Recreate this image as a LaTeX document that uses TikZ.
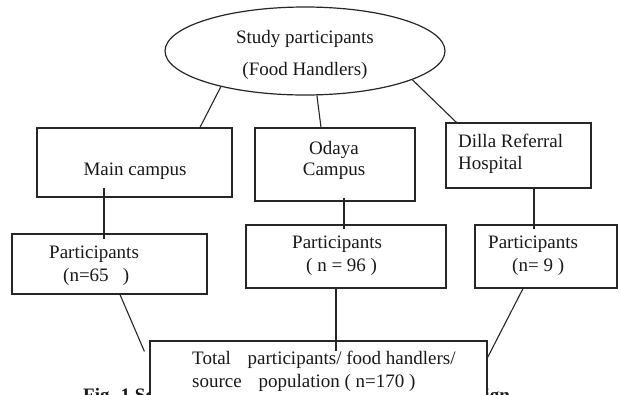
\documentclass[tikz,border=0pt]{standalone}
\usepackage{fontspec}
\setmainfont{Liberation Serif}
\usetikzlibrary{shapes.geometric}
\begin{document}
\begin{tikzpicture}[x=1pt,y=-1pt,
  box/.style={draw=black!85, line width=1.2pt, rectangle, inner sep=0pt, fill=white},
  conn/.style={draw=black!85, line width=1.1pt},
  lbl/.style={inner sep=0pt, font=\fontsize{19pt}{22pt}\selectfont, text=black!90},
  ]
\clip (0,0) rectangle (620,394);
\fill[white] (0,0) rectangle (620,394);
% ellipse
\node[draw=black!85, line width=1.2pt, ellipse, minimum width=280pt, minimum height=88pt, inner sep=0pt] (ell) at (305,51) {};
% boxes
\node[box, minimum width=195pt, minimum height=69pt] (main) at (134.5,162.5) {};
\node[box, minimum width=160pt, minimum height=73pt] (odaya) at (335,164.5) {};
\node[box, minimum width=145pt, minimum height=65pt] (dilla) at (518.5,155.5) {};
\node[box, minimum width=195pt, minimum height=60pt] (p1) at (109.5,264) {};
\node[box, minimum width=200pt, minimum height=63pt] (p2) at (346,256.5) {};
\node[box, minimum width=142pt, minimum height=63pt] (p3) at (546,256.5) {};
% connectors top
\draw[conn] (ell.203.6) -- ([xshift=65.5pt]main.north);
\draw[conn] (ell.285.6) -- ([xshift=-14pt]odaya.north);
\draw[conn] (ell.345.7) -- ([xshift=11pt]dilla.north west);
\draw[conn] ([xshift=-30.5pt,yshift=10pt]main.south) -- ([xshift=-5.5pt,yshift=-6pt]p1.north);
\draw[conn] ([xshift=9pt,yshift=4pt]odaya.south) -- ([xshift=-2pt,yshift=-5pt]p2.north);
\draw[conn] ([xshift=15.5pt]dilla.south) -- ([xshift=-12pt,yshift=-5pt]p3.north);
% caption (partly hidden behind the total box, as in the reference)
\node[lbl, anchor=base west, font=\bfseries\fontsize{19pt}{22pt}\selectfont] (cap) at (83,401) {Fig. 1 Schematic presentation of the sampling design};
% total box
\node[box, minimum width=337pt, minimum height=69pt] (total) at (318.5,375.5) {};
\draw[conn] ([xshift=10.5pt]p1.south) -- ([xshift=-5pt,yshift=-11pt]total.north west);
\draw[conn] ([xshift=-10pt]p2.south) -- ([xshift=17.5pt,yshift=-11pt]total.north);
\draw[conn] ([xshift=-23pt]p3.south) -- ([yshift=-17pt]total.north east);
% texts
\node[lbl, anchor=base] (t1) at (305,43) {Study participants};
\node[lbl, anchor=base] (t2) at (305,75) {(Food Handlers)};
\node[lbl, anchor=base] (tm) at (135,175) {Main campus};
\node[lbl, anchor=base] (to1) at (334,154) {Odaya};
\node[lbl, anchor=base] (to2) at (334,175) {Campus};
\node[lbl, anchor=base west] (td1) at (458,147) {Dilla Referral};
\node[lbl, anchor=base west] (td2) at (458,169) {Hospital};
\node[lbl, anchor=base west] (tp1a) at (49,258) {Participants};
\node[lbl, anchor=base west] (tp1b) at (63,281) {(n=65\ \ \ )};
\node[lbl, anchor=base west] (tp2a) at (292,248) {Participants};
\node[lbl, anchor=base west] (tp2b) at (306,271) {( n = 96 )};
\node[lbl, anchor=base west] (tp3a) at (488,248) {Participants};
\node[lbl, anchor=base west] (tp3b) at (512,271) {(n= 9 )};
\node[lbl, anchor=base west] (tt1) at (192,364) {Total\hspace{12pt} participants/ food handlers/};
\node[lbl, anchor=base west] (tt2) at (192,387) {source\hspace{12pt} population ( n=170 )};
\end{tikzpicture}
\end{document}
